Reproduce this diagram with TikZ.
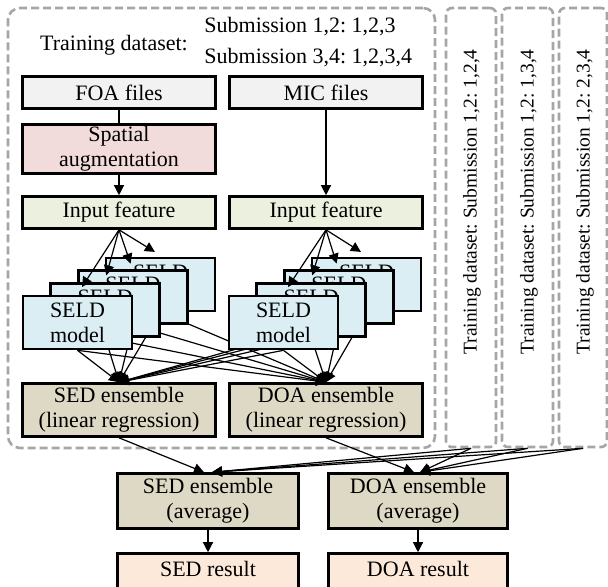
\documentclass[tikz,border=0pt]{standalone}
\usepackage{fontspec}
\setmainfont{Liberation Serif}
\usetikzlibrary{arrows.meta,calc}
\frenchspacing
\definecolor{filesclr}{HTML}{F2F2F2}
\definecolor{spatclr}{HTML}{F2DCDB}
\definecolor{featclr}{HTML}{EBF1DE}
\definecolor{seldclr}{HTML}{DBEEF4}
\definecolor{ensclr}{HTML}{DDD9C4}
\definecolor{resclr}{HTML}{FDE9D9}
\definecolor{dashclr}{HTML}{A6A6A6}
\tikzset{
  box/.style={draw=black, line width=1.3pt, inner sep=0pt, align=center,
    font=\fontsize{11}{12.5}\selectfont},
  colbox/.style={box, minimum width=96.5pt},
  seld/.style={box, fill=seldclr, minimum width=54.5pt, minimum height=26.5pt},
  conn/.style={line width=0.6pt, -{Triangle[length=5pt,width=5pt]}},
  plain/.style={line width=0.6pt},
  dashbox/.style={draw=dashclr, line width=1.3pt, dash pattern=on 4pt off 2pt, inner sep=0pt},
  lbl/.style={inner sep=0pt, font=\fontsize{11}{12.5}\selectfont},
  rlbl/.style={inner sep=0pt, rotate=90, font=\fontsize{9.75}{11}\selectfont}
}
\begin{document}
\begin{tikzpicture}[x=0.5pt,y=-0.5pt]
\clip (0,0) rectangle (608,586);
\fill[white] (0,0) rectangle (608,586);
% dashed groups
\node[dashbox, rounded corners=6pt, minimum width=213.5pt, minimum height=220pt] (main) at (221.5,228) {};
\node[dashbox, rounded corners=3pt, minimum width=25pt, minimum height=219.5pt] (c1) at (471,227.5) {};
\node[dashbox, rounded corners=3pt, minimum width=25.5pt, minimum height=219.5pt] (c2) at (527.5,227.5) {};
\node[dashbox, rounded corners=3pt, minimum width=24pt, minimum height=219.5pt] (c3) at (583,227.5) {};
\node[rlbl] (t1) at (472,202) {Training dataset: Submission 1,2: 1,2,4};
\node[rlbl] (t2) at (529,202) {Training dataset: Submission 1,2: 1,3,4};
\node[rlbl] (t3) at (585,202) {Training dataset: Submission 1,2: 2,3,4};
% header text
\node[lbl] (td) at (114,45) {Training dataset:};
\node[lbl, anchor=west] (s1) at (204,27) {Submission 1,2: 1,2,3};
\node[lbl, anchor=west] (s2) at (204,58) {Submission 3,4: 1,2,3,4};
% top boxes
\node[colbox, fill=filesclr, minimum height=16pt] (foa) at (119,92.5) {FOA files};
\node[colbox, fill=filesclr, minimum height=16pt] (mic) at (326,92.5) {MIC files};
\node[colbox, fill=spatclr, minimum height=24.5pt] (spat) at (119,149) {Spatial\\augmentation};
\node[colbox, fill=featclr, minimum height=16pt] (inL) at (119,212.5) {Input feature};
\node[colbox, fill=featclr, minimum height=16pt] (inR) at (326,212.5) {Input feature};
\draw[plain] (foa) -- (spat);
\draw[conn] (spat) -- (inL);
\draw[conn] (mic) -- (inR);
% ensemble (linear regression)
\node[colbox, fill=ensclr, minimum height=26.5pt] (sedlr) at (119,410) {SED ensemble\\(linear regression)};
\node[colbox, fill=ensclr, minimum height=26.5pt] (doalr) at (326,410) {DOA ensemble\\(linear regression)};
% SELD model stacks
\foreach \g/\dx in {L/0,R/206}{
  \foreach \k in {3,2,1,0}{
    \node[seld] (\g\k) at ({77.5+\dx+27.7*\k},{322.5-12.7*\k}) {SELD\\model};
    \draw[conn] (\g\k.south) -- (sedlr.north);
    \draw[conn] (\g\k.south) -- (doalr.north);
  }
}
\foreach \g/\dx in {L/0,R/206}{
  \foreach \k in {0,1,2,3}{
    \coordinate (tip\g\k) at ({82+\dx+24.3*\k},{287-11.7*\k});
    \draw[conn] (in\g.south) -- (tip\g\k);
  }
}
% averages
\node[box, fill=ensclr, minimum width=90.5pt, minimum height=27.5pt] (sedavg) at (208,501) {SED ensemble\\(average)};
\node[box, fill=ensclr, minimum width=89.5pt, minimum height=27.5pt] (doaavg) at (418,501) {DOA ensemble\\(average)};
\draw[conn] (sedlr.south) -- ([xshift=-2pt]sedavg.north);
\draw[conn] (doalr.south) -- ([xshift=-2pt]doaavg.north);
\foreach \c in {c1,c2,c3}{
  \draw[conn] (\c.south) -- ([xshift=2pt]sedavg.north);
  \draw[conn] (\c.south) -- ([xshift=1pt]doaavg.north);
}
% results
\node[box, fill=resclr, minimum width=90.5pt, minimum height=27.5pt] (sedres) at (208,581) {};
\node[box, fill=resclr, minimum width=89.5pt, minimum height=27.5pt] (doares) at (418,581) {};
\node[lbl] (sedrestxt) at (208,569) {SED result};
\node[lbl] (doarestxt) at (418,569) {DOA result};
\draw[conn] (sedavg) -- (sedres);
\draw[conn] (doaavg) -- (doares);
\end{tikzpicture}
\end{document}
